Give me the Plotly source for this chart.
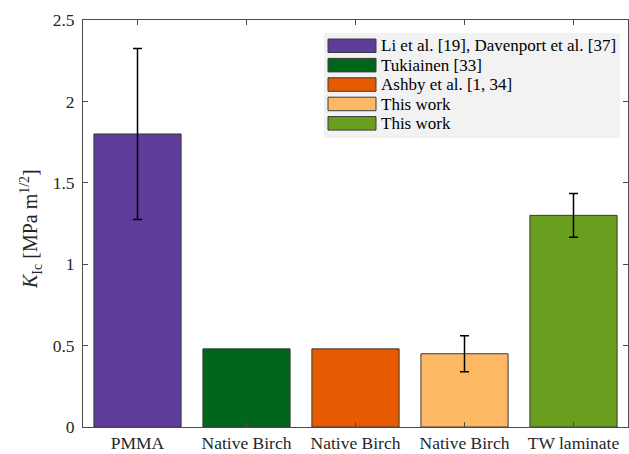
import plotly.graph_objects as go

# ---- data ----
categories = ["PMMA", "Native Birch", "Native Birch", "Native Birch", "TW laminate"]
values = [1.80, 0.48, 0.48, 0.45, 1.30]
errors = [0.525, 0.0, 0.0, 0.11, 0.135]
show_err = [True, False, False, True, True]
colors = ["#5E3C99", "#006619", "#E65A01", "#FDB863", "#6A9E1F"]
legend_labels = ["Li et al. [19], Davenport et al. [37]", "Tukiainen [33]",
                 "Ashby et al. [1, 34]", "This work", "This work"]
yticks = [0, 0.5, 1, 1.5, 2, 2.5]
ytick_text = ["0", "0.5", "1", "1.5", "2", "2.5"]

W, H = 629, 454
L, R, T, B = 83, 1, 20, 27
PW, PH = W - L - R, H - T - B
FONT = "Liberation Serif"
AX = "#4d4d4d"

def px(x):
    return (x - L) / PW

def py(y):
    return (H - B - y) / PH

xs = list(range(len(categories)))
ex = [x for x, s in zip(xs, show_err) if s]
ey = [v for v, s in zip(values, show_err) if s]
ee = [e for e, s in zip(errors, show_err) if s]

fig = go.Figure()
fig.add_trace(go.Bar(
    x=xs, y=values, width=0.8,
    marker=dict(color=colors, line=dict(color="#3a3a3a", width=1)),
    showlegend=False,
))
fig.add_trace(go.Scatter(
    x=ex, y=ey, mode="markers", marker=dict(size=1, color="rgba(0,0,0,0)"),
    error_y=dict(type="data", array=ee, color="black", thickness=1.5, width=4.5, visible=True),
    showlegend=False, hoverinfo="skip",
))

shapes = []
annotations = []
shapes.append(dict(type="rect", xref="paper", yref="paper",
                   x0=px(324), x1=px(620), y0=py(138), y1=py(33),
                   fillcolor="#F2F2F2", line=dict(width=0), layer="above"))
for i, (lab, c) in enumerate(zip(legend_labels, colors)):
    ytop = 39 + i * 19.4
    shapes.append(dict(type="rect", xref="paper", yref="paper",
                       x0=px(328), x1=px(376), y0=py(ytop + 13.5), y1=py(ytop),
                       fillcolor=c, line=dict(color="#3a3a3a", width=1), layer="above"))
    annotations.append(dict(xref="paper", yref="paper", x=px(379), y=py(ytop + 6.8),
                            text=lab, showarrow=False, xanchor="left", yanchor="middle",
                            font=dict(family=FONT, size=17, color="black")))

annotations.append(dict(xref="paper", yref="paper", x=px(31), y=py(229),
                        text="<i>K</i><sub>Ic</sub> [MPa m<sup>1/2</sup>]",
                        textangle=-90, showarrow=False, xanchor="center", yanchor="middle",
                        font=dict(family=FONT, size=20, color="#262626")))

fig.update_layout(
    width=W, height=H,
    margin=dict(l=L, r=R, t=T, b=B, pad=0),
    paper_bgcolor="white", plot_bgcolor="white",
    font=dict(family=FONT, size=17, color="#262626"),
    shapes=shapes, annotations=annotations,
    bargap=0.2,
)
fig.update_xaxes(
    range=[-0.5, len(categories) - 0.5],
    tickmode="array", tickvals=xs, ticktext=categories,
    ticks="inside", ticklen=5, tickcolor=AX,
    showline=True, linecolor=AX, linewidth=1, mirror="ticks",
    showgrid=False, zeroline=False,
    tickfont=dict(family=FONT, size=17.5, color="#262626"),
)
fig.update_yaxes(
    range=[0, 2.5],
    tickmode="array", tickvals=yticks, ticktext=ytick_text,
    ticks="inside", ticklen=5, tickcolor=AX,
    showline=True, linecolor=AX, linewidth=1, mirror="ticks",
    showgrid=False, zeroline=False, ticklabelstandoff=4,
    tickfont=dict(family=FONT, size=17.5, color="#262626"),
)

fig.write_html("out.html")
